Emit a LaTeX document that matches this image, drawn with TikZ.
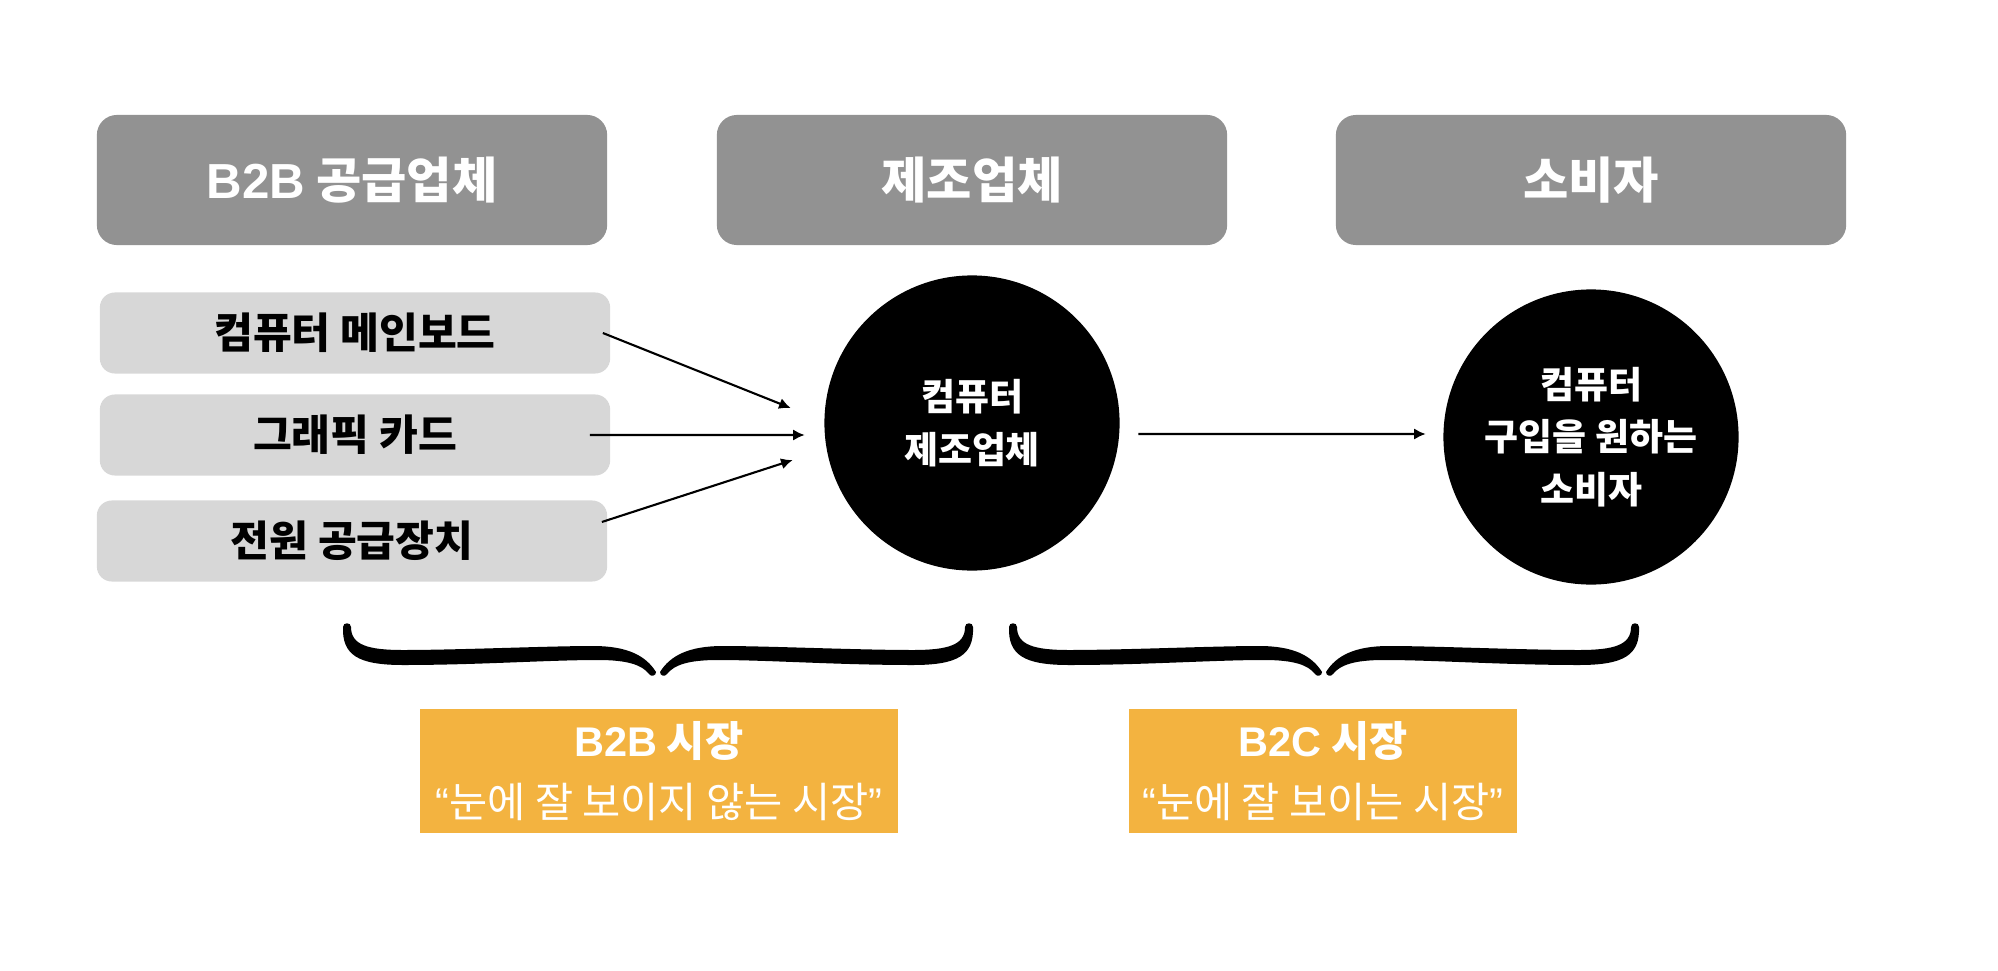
\documentclass[tikz,border=0pt]{standalone}
\usepackage{fontspec}
\setmainfont{Noto Sans CJK KR}
\newfontfamily\latinsans{Liberation Sans}
\usetikzlibrary{arrows.meta}
\definecolor{headgray}{HTML}{929292}
\definecolor{partgray}{HTML}{D7D7D7}
\definecolor{marketorange}{HTML}{F3B340}

\begin{document}
\begin{tikzpicture}[x=0.01cm,y=-0.01cm,
    header/.style={fill=headgray,rounded corners=0.2cm,minimum width=5.1cm,minimum height=1.3cm,text=white,font=\fontsize{14}{16}\selectfont\bfseries},
    part/.style={fill=partgray,rounded corners=0.15cm,minimum width=5.1cm,minimum height=0.81cm,font=\fontsize{12}{14}\selectfont\bfseries},
    party/.style={circle,fill=black,minimum size=2.95cm,inner sep=0pt,text=white,align=center,font=\fontsize{10.5}{15}\selectfont\bfseries},
    market/.style={fill=marketorange,minimum height=1.2cm,text=white,align=center,font=\fontsize{11.8}{17.5}\selectfont},
    link/.style={-{Latex[length=3.3pt,width=3.2pt]},line width=0.6pt},
    halfbrace/.pic={
        \fill (-315,-46) .. controls (-316,-18) and (-300,-8) .. (-255,-8)
            .. controls (-180,-8) and (-110,-13) .. (-60,-13)
            .. controls (-30,-13) and (-16,-8) .. (-9,1)
            .. controls (-7,4) and (-2,3) .. (-2,-1)
            .. controls (-12,-17) and (-30,-27) .. (-65,-27)
            .. controls (-110,-27) and (-200,-23) .. (-255,-23)
            .. controls (-290,-23) and (-307,-28) .. (-307,-46)
            .. controls (-307,-51) and (-315,-51) .. (-315,-46) -- cycle;
    }]
    \useasboundingbox (0,0) rectangle (1998,970);

    % headers
    \node[header] (h1) at (352,180) {{\latinsans B2B} 공급업체};
    \node[header] (h2) at (972,180) {제조업체};
    \node[header] (h3) at (1591,180) {소비자};

    % parts
    \node[part] (board) at (355,333) {컴퓨터 메인보드};
    \node[part] (card) at (355,435) {그래픽 카드};
    \node[part] (psu) at (352,541) {전원 공급장치};

    % circles
    \node[party] (maker) at (972,423) {컴퓨터\\제조업체};
    \node[party] (consumer) at (1591,437) {컴퓨터\\구입을 원하는\\소비자};

    % edges
    \draw[link] ([xshift=-0.08cm]board.east) -- ([xshift=-0.33cm,yshift=0.15cm]maker.west);
    \draw[link] ([xshift=-0.21cm]card.east) -- ([xshift=-0.19cm,yshift=-0.12cm]maker.west);
    \draw[link] ([xshift=-0.06cm,yshift=0.19cm]psu.east) -- ([xshift=-0.31cm,yshift=-0.37cm]maker.west);
    \draw[link] ([xshift=0.18cm,yshift=-0.11cm]maker.east) -- ([xshift=-0.17cm,yshift=0.03cm]consumer.west);

    % braces
    \pic at (658,673) {halfbrace};
    \pic[xscale=-1] at (658,673) {halfbrace};
    \pic at (1324,673) {halfbrace};
    \pic[xscale=-1] at (1324,673) {halfbrace};

    % markets
    \node[market,minimum width=4.78cm] (b2b) at (659,771) {{\bfseries\latinsans B2B} {\bfseries 시장}\\{\latinsans “}눈에 잘 보이지 않는 시장{\latinsans ”}};
    \node[market,minimum width=3.88cm] (b2c) at (1323,771) {{\bfseries\latinsans B2C} {\bfseries 시장}\\{\latinsans “}눈에 잘 보이는 시장{\latinsans ”}};
\end{tikzpicture}
\end{document}
